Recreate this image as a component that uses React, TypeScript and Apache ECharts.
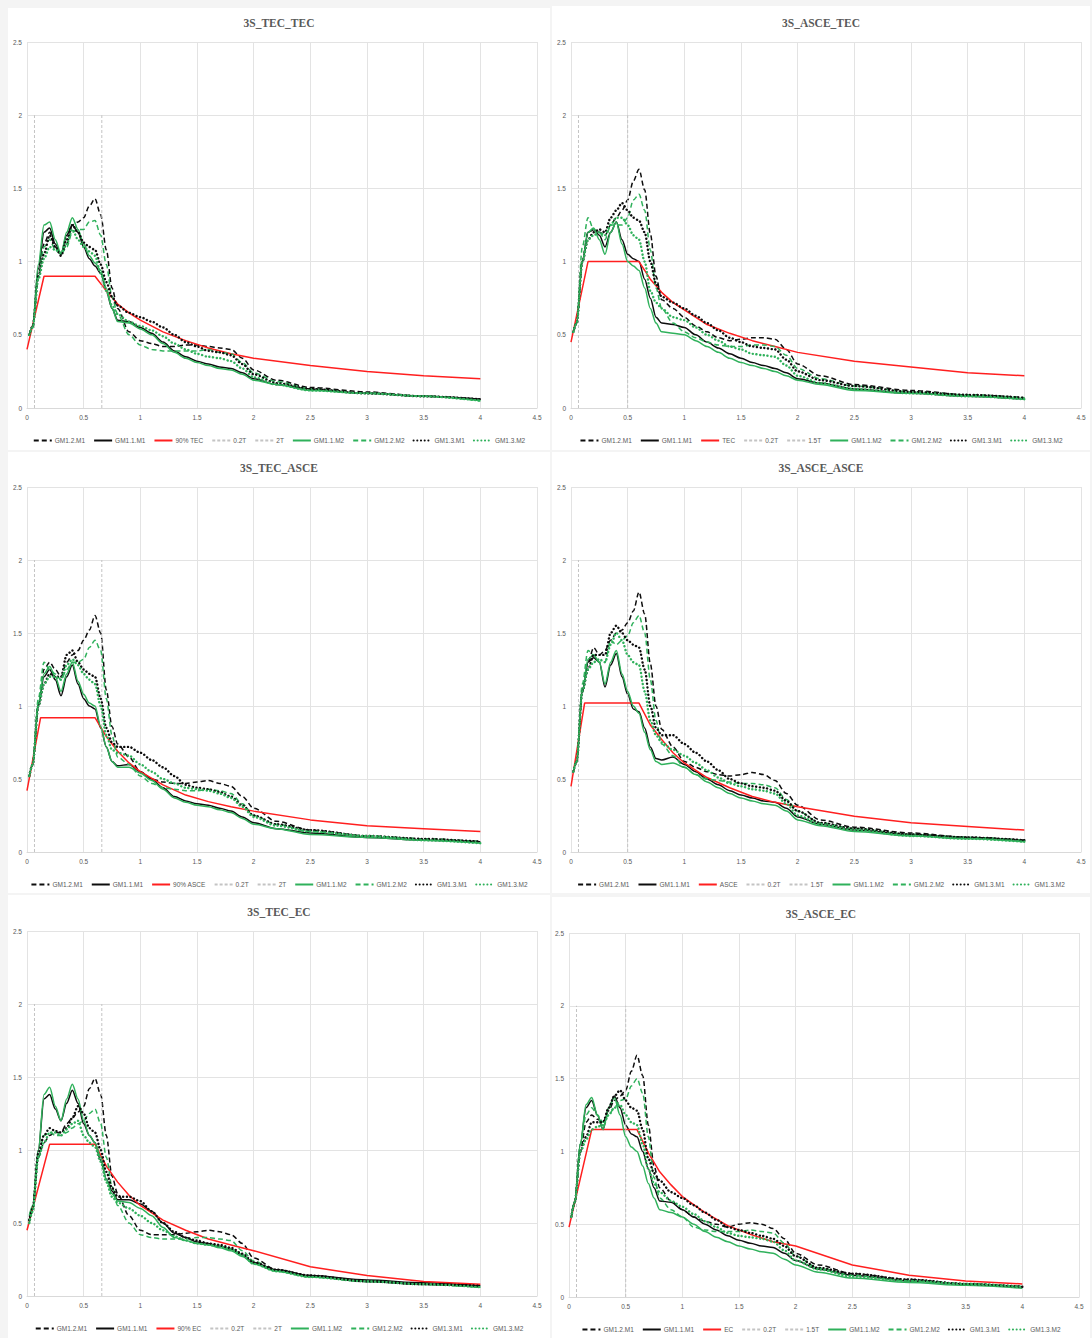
import React, { useEffect, useRef } from "react";
import * as echarts from "echarts";

// ---------- data ----------
const PERIODS = [0.02, 0.05, 0.1, 0.15, 0.2, 0.25, 0.3, 0.35, 0.4, 0.45, 0.5, 0.55, 0.6, 0.65, 0.7, 0.75, 0.8, 0.9, 1.0, 1.1, 1.2, 1.3, 1.4, 1.5, 1.6, 1.7, 1.8, 1.9, 2.0, 2.2, 2.5, 3.0, 3.5, 4.0];

const TEC_T = [0, 0.15, 0.6, 0.7, 0.8, 0.9, 1.0, 1.2, 1.4, 1.6, 1.8, 2.0, 2.5, 3.0, 3.5, 4.0];
const ASCE_T = [0, 0.12, 0.6, 0.7, 0.8, 0.9, 1.0, 1.2, 1.4, 1.6, 1.8, 2.0, 2.5, 3.0, 3.5, 4.0];
const EC_T = [0, 0.2, 0.6, 0.7, 0.8, 0.9, 1.0, 1.2, 1.4, 1.6, 1.8, 2.0, 2.5, 3.0, 3.5, 4.0];

const TITLES = ["3S_TEC_TEC", "3S_ASCE_TEC", "3S_TEC_ASCE", "3S_ASCE_ASCE", "3S_TEC_EC", "3S_ASCE_EC"];
const TARGET_NAMES = ["90% TEC", "TEC", "90% ASCE", "ASCE", "90% EC", "EC"];
const LINE2_NAMES = ["2T", "1.5T", "2T", "1.5T", "2T", "1.5T"];
const LINE1_T = [0.066, 0.066, 0.066, 0.066, 0.066, 0.066];
const LINE2_T = [0.66, 0.5, 0.66, 0.5, 0.66, 0.5];
const LINE_TOP = 2;

// Panel 1: 3S_TEC_TEC
const P1_GM11_M1 = [0.5, 0.55, 0.95, 1.2, 1.23, 1.12, 1.05, 1.18, 1.25, 1.2, 1.1, 1.02, 0.97, 0.92, 0.8, 0.68, 0.6, 0.59, 0.55, 0.51, 0.45, 0.39, 0.35, 0.32, 0.3, 0.28, 0.27, 0.24, 0.2, 0.16, 0.13, 0.1, 0.08, 0.06];
const P1_GM11_M2 = [0.5, 0.56, 0.98, 1.25, 1.27, 1.15, 1.05, 1.2, 1.3, 1.22, 1.12, 1.04, 0.99, 0.94, 0.82, 0.68, 0.59, 0.58, 0.54, 0.5, 0.44, 0.38, 0.34, 0.31, 0.29, 0.27, 0.26, 0.23, 0.19, 0.16, 0.12, 0.1, 0.08, 0.05];
const P1_GM12_M1 = [0.5, 0.55, 0.9, 1.12, 1.2, 1.1, 1.05, 1.12, 1.25, 1.27, 1.3, 1.38, 1.43, 1.32, 1.08, 0.82, 0.68, 0.52, 0.46, 0.44, 0.42, 0.42, 0.43, 0.43, 0.42, 0.41, 0.4, 0.34, 0.26, 0.19, 0.14, 0.11, 0.08, 0.06];
const P1_GM12_M2 = [0.5, 0.55, 0.9, 1.1, 1.15, 1.08, 1.05, 1.1, 1.2, 1.22, 1.22, 1.27, 1.28, 1.18, 0.98, 0.76, 0.64, 0.5, 0.43, 0.4, 0.39, 0.39, 0.39, 0.39, 0.4, 0.38, 0.37, 0.31, 0.24, 0.18, 0.13, 0.1, 0.08, 0.05];
const P1_GM13_M1 = [0.5, 0.56, 0.9, 1.05, 1.18, 1.1, 1.04, 1.15, 1.25, 1.2, 1.13, 1.1, 1.08, 0.98, 0.86, 0.76, 0.7, 0.65, 0.62, 0.59, 0.55, 0.5, 0.45, 0.42, 0.39, 0.38, 0.36, 0.3, 0.23, 0.17, 0.13, 0.1, 0.08, 0.06];
const P1_GM13_M2 = [0.5, 0.55, 0.88, 1.02, 1.1, 1.08, 1.06, 1.12, 1.22, 1.15, 1.1, 1.07, 1.04, 0.92, 0.8, 0.7, 0.64, 0.59, 0.56, 0.53, 0.49, 0.44, 0.4, 0.37, 0.35, 0.34, 0.32, 0.27, 0.21, 0.16, 0.12, 0.1, 0.08, 0.05];
const P1_TARGET = [0.4, 0.9, 0.9, 0.8, 0.71, 0.65, 0.6, 0.52, 0.46, 0.41, 0.37, 0.34, 0.29, 0.25, 0.22, 0.2];

// Panel 2: 3S_ASCE_TEC
const P2_GM11_M1 = [0.52, 0.58, 1.0, 1.2, 1.22, 1.18, 1.1, 1.2, 1.27, 1.15, 1.05, 1.02, 1.0, 0.88, 0.75, 0.62, 0.58, 0.57, 0.55, 0.5, 0.45, 0.41, 0.37, 0.34, 0.31, 0.29, 0.27, 0.24, 0.2, 0.17, 0.13, 0.1, 0.08, 0.06];
const P2_GM11_M2 = [0.52, 0.58, 1.0, 1.2, 1.23, 1.15, 1.05, 1.2, 1.27, 1.12, 1.0, 0.97, 0.94, 0.82, 0.68, 0.58, 0.52, 0.51, 0.5, 0.46, 0.42, 0.38, 0.34, 0.31, 0.29, 0.27, 0.25, 0.22, 0.19, 0.16, 0.12, 0.1, 0.08, 0.06];
const P2_GM12_M1 = [0.52, 0.58, 1.0, 1.2, 1.22, 1.2, 1.18, 1.25, 1.3, 1.35, 1.42, 1.55, 1.63, 1.49, 1.19, 0.9, 0.74, 0.68, 0.62, 0.56, 0.52, 0.48, 0.46, 0.47, 0.48, 0.48, 0.47, 0.4, 0.3, 0.22, 0.16, 0.12, 0.09, 0.07];
const P2_GM12_M2 = [0.52, 0.58, 1.1, 1.3, 1.22, 1.2, 1.15, 1.25, 1.25, 1.25, 1.3, 1.42, 1.46, 1.35, 1.08, 0.82, 0.68, 0.58, 0.52, 0.48, 0.45, 0.43, 0.42, 0.42, 0.43, 0.43, 0.42, 0.36, 0.27, 0.2, 0.15, 0.11, 0.09, 0.07];
const P2_GM13_M1 = [0.52, 0.58, 1.0, 1.15, 1.2, 1.22, 1.2, 1.3, 1.35, 1.4, 1.35, 1.3, 1.28, 1.2, 1.0, 0.85, 0.76, 0.72, 0.68, 0.63, 0.58, 0.53, 0.48, 0.45, 0.42, 0.41, 0.4, 0.33, 0.25, 0.19, 0.15, 0.11, 0.09, 0.07];
const P2_GM13_M2 = [0.52, 0.58, 1.0, 1.15, 1.18, 1.2, 1.18, 1.25, 1.3, 1.3, 1.25, 1.18, 1.15, 1.0, 0.8, 0.72, 0.68, 0.62, 0.6, 0.55, 0.5, 0.46, 0.42, 0.4, 0.37, 0.36, 0.35, 0.29, 0.22, 0.17, 0.13, 0.1, 0.08, 0.06];
const P2_TARGET = [0.45, 1.0, 1.0, 0.88, 0.79, 0.72, 0.67, 0.57, 0.51, 0.46, 0.42, 0.38, 0.32, 0.28, 0.24, 0.22];

// Panel 3: 3S_TEC_ASCE
const P3_GM11_M1 = [0.52, 0.6, 1.0, 1.2, 1.25, 1.18, 1.07, 1.2, 1.28, 1.15, 1.05, 1.0, 0.98, 0.85, 0.72, 0.62, 0.59, 0.6, 0.55, 0.5, 0.44, 0.38, 0.35, 0.33, 0.32, 0.3, 0.28, 0.24, 0.2, 0.16, 0.13, 0.1, 0.08, 0.07];
const P3_GM11_M2 = [0.52, 0.6, 1.02, 1.22, 1.27, 1.2, 1.1, 1.22, 1.3, 1.17, 1.08, 1.02, 1.0, 0.86, 0.72, 0.62, 0.58, 0.58, 0.54, 0.49, 0.43, 0.37, 0.34, 0.32, 0.31, 0.29, 0.27, 0.23, 0.19, 0.16, 0.12, 0.1, 0.08, 0.06];
const P3_GM12_M1 = [0.52, 0.6, 1.0, 1.25, 1.3, 1.25, 1.2, 1.3, 1.35, 1.38, 1.45, 1.52, 1.62, 1.5, 1.11, 0.86, 0.74, 0.65, 0.55, 0.5, 0.48, 0.47, 0.47, 0.48, 0.49, 0.47, 0.45, 0.38, 0.3, 0.21, 0.15, 0.11, 0.09, 0.07];
const P3_GM12_M2 = [0.52, 0.6, 1.05, 1.3, 1.25, 1.22, 1.18, 1.25, 1.3, 1.3, 1.32, 1.4, 1.45, 1.38, 1.05, 0.8, 0.65, 0.6, 0.52, 0.47, 0.44, 0.43, 0.42, 0.42, 0.43, 0.42, 0.4, 0.33, 0.25, 0.19, 0.14, 0.11, 0.09, 0.07];
const P3_GM13_M1 = [0.52, 0.6, 1.0, 1.15, 1.22, 1.2, 1.2, 1.35, 1.38, 1.3, 1.25, 1.22, 1.2, 1.05, 0.85, 0.75, 0.72, 0.72, 0.68, 0.63, 0.58, 0.52, 0.46, 0.44, 0.43, 0.41, 0.38, 0.32, 0.25, 0.19, 0.15, 0.11, 0.09, 0.07];
const P3_GM13_M2 = [0.52, 0.6, 1.0, 1.15, 1.2, 1.2, 1.18, 1.28, 1.32, 1.28, 1.22, 1.18, 1.15, 1.0, 0.8, 0.7, 0.68, 0.66, 0.6, 0.55, 0.5, 0.47, 0.44, 0.43, 0.42, 0.4, 0.37, 0.31, 0.24, 0.18, 0.14, 0.11, 0.08, 0.06];
const P3_TARGET = [0.42, 0.92, 0.92, 0.79, 0.69, 0.61, 0.55, 0.46, 0.39, 0.345, 0.31, 0.28, 0.22, 0.18, 0.16, 0.14];

// Panel 4: 3S_ASCE_ASCE
const P4_GM11_M1 = [0.55, 0.62, 1.1, 1.3, 1.33, 1.3, 1.13, 1.28, 1.36, 1.2, 1.08, 0.98, 0.96, 0.85, 0.72, 0.64, 0.63, 0.65, 0.6, 0.55, 0.5, 0.46, 0.42, 0.39, 0.37, 0.35, 0.34, 0.3, 0.24, 0.19, 0.15, 0.12, 0.1, 0.08];
const P4_GM11_M2 = [0.55, 0.62, 1.1, 1.32, 1.35, 1.3, 1.15, 1.3, 1.38, 1.22, 1.1, 1.0, 0.95, 0.82, 0.7, 0.62, 0.6, 0.61, 0.58, 0.53, 0.48, 0.44, 0.4, 0.37, 0.35, 0.33, 0.32, 0.28, 0.22, 0.18, 0.14, 0.11, 0.09, 0.07];
const P4_GM12_M1 = [0.55, 0.62, 1.1, 1.3, 1.4, 1.35, 1.38, 1.45, 1.5, 1.52, 1.57, 1.65, 1.78, 1.63, 1.29, 1.0, 0.84, 0.72, 0.62, 0.58, 0.55, 0.53, 0.52, 0.53, 0.545, 0.53, 0.49, 0.4, 0.32, 0.22, 0.17, 0.13, 0.1, 0.08];
const P4_GM12_M2 = [0.55, 0.62, 1.15, 1.38, 1.35, 1.3, 1.3, 1.45, 1.42, 1.45, 1.48, 1.57, 1.62, 1.5, 1.18, 0.9, 0.74, 0.66, 0.58, 0.53, 0.5, 0.49, 0.48, 0.47, 0.47, 0.46, 0.44, 0.36, 0.28, 0.2, 0.16, 0.12, 0.1, 0.08];
const P4_GM13_M1 = [0.55, 0.62, 1.1, 1.25, 1.35, 1.35, 1.35, 1.5, 1.55, 1.5, 1.45, 1.42, 1.4, 1.25, 1.0, 0.85, 0.8, 0.8, 0.74, 0.68, 0.62, 0.56, 0.5, 0.47, 0.45, 0.44, 0.42, 0.35, 0.28, 0.2, 0.16, 0.12, 0.1, 0.08];
const P4_GM13_M2 = [0.55, 0.62, 1.1, 1.25, 1.3, 1.32, 1.3, 1.42, 1.5, 1.45, 1.35, 1.3, 1.28, 1.1, 0.9, 0.8, 0.75, 0.7, 0.66, 0.61, 0.56, 0.51, 0.47, 0.45, 0.43, 0.42, 0.4, 0.33, 0.25, 0.19, 0.15, 0.11, 0.09, 0.07];
const P4_TARGET = [0.45, 1.02, 1.02, 0.87, 0.77, 0.68, 0.61, 0.51, 0.44, 0.38, 0.34, 0.31, 0.245, 0.2, 0.175, 0.15];

// Panel 5: 3S_TEC_EC
const P5_GM11_M1 = [0.52, 0.6, 1.0, 1.35, 1.38, 1.28, 1.2, 1.32, 1.41, 1.32, 1.18, 1.1, 1.05, 0.93, 0.8, 0.72, 0.66, 0.66, 0.63, 0.58, 0.5, 0.43, 0.4, 0.37, 0.36, 0.34, 0.32, 0.28, 0.23, 0.18, 0.14, 0.11, 0.09, 0.07];
const P5_GM11_M2 = [0.55, 0.62, 1.0, 1.38, 1.43, 1.3, 1.2, 1.35, 1.45, 1.35, 1.2, 1.1, 1.05, 0.95, 0.8, 0.7, 0.65, 0.64, 0.6, 0.55, 0.47, 0.4, 0.38, 0.36, 0.35, 0.33, 0.31, 0.27, 0.22, 0.17, 0.13, 0.1, 0.08, 0.06];
const P5_GM12_M1 = [0.52, 0.6, 0.95, 1.05, 1.1, 1.12, 1.12, 1.18, 1.22, 1.26, 1.3, 1.42, 1.49, 1.38, 1.1, 0.82, 0.7, 0.55, 0.45, 0.42, 0.42, 0.42, 0.43, 0.44, 0.45, 0.44, 0.42, 0.36, 0.26, 0.18, 0.14, 0.1, 0.08, 0.06];
const P5_GM12_M2 = [0.5, 0.58, 0.95, 1.1, 1.12, 1.1, 1.1, 1.12, 1.15, 1.18, 1.2, 1.25, 1.28, 1.18, 0.95, 0.75, 0.62, 0.5, 0.42, 0.4, 0.39, 0.39, 0.39, 0.4, 0.4, 0.39, 0.38, 0.31, 0.24, 0.17, 0.13, 0.1, 0.08, 0.06];
const P5_GM13_M1 = [0.52, 0.6, 0.98, 1.1, 1.15, 1.13, 1.12, 1.15, 1.22, 1.3, 1.25, 1.15, 1.12, 1.0, 0.85, 0.74, 0.68, 0.68, 0.65, 0.58, 0.5, 0.44, 0.4, 0.38, 0.36, 0.35, 0.33, 0.29, 0.23, 0.18, 0.14, 0.1, 0.08, 0.07];
const P5_GM13_M2 = [0.5, 0.58, 0.95, 1.05, 1.12, 1.12, 1.1, 1.14, 1.18, 1.2, 1.1, 1.05, 1.02, 0.92, 0.78, 0.68, 0.64, 0.6, 0.55, 0.5, 0.45, 0.41, 0.38, 0.36, 0.35, 0.34, 0.32, 0.28, 0.22, 0.17, 0.13, 0.1, 0.08, 0.06];
const P5_TARGET = [0.45, 1.04, 1.04, 0.89, 0.78, 0.69, 0.62, 0.52, 0.45, 0.39, 0.35, 0.31, 0.2, 0.14, 0.1, 0.08];

// Panel 6: 3S_ASCE_EC
const P6_GM11_M1 = [0.55, 0.65, 1.05, 1.3, 1.35, 1.25, 1.15, 1.3, 1.38, 1.3, 1.18, 1.12, 1.1, 1.0, 0.88, 0.75, 0.66, 0.65, 0.6, 0.55, 0.5, 0.46, 0.42, 0.39, 0.37, 0.35, 0.34, 0.3, 0.25, 0.19, 0.15, 0.11, 0.09, 0.07];
const P6_GM11_M2 = [0.55, 0.65, 1.05, 1.32, 1.37, 1.25, 1.15, 1.3, 1.37, 1.25, 1.1, 1.03, 1.0, 0.9, 0.78, 0.68, 0.6, 0.58, 0.55, 0.5, 0.45, 0.41, 0.38, 0.35, 0.33, 0.31, 0.3, 0.26, 0.22, 0.17, 0.13, 0.1, 0.08, 0.06];
const P6_GM12_M1 = [0.55, 0.65, 1.0, 1.2, 1.25, 1.22, 1.2, 1.28, 1.35, 1.38, 1.42, 1.55, 1.66, 1.52, 1.18, 0.9, 0.75, 0.66, 0.6, 0.55, 0.52, 0.5, 0.48, 0.5, 0.51, 0.5, 0.47, 0.4, 0.3, 0.22, 0.16, 0.12, 0.09, 0.07];
const P6_GM12_M2 = [0.55, 0.65, 1.05, 1.25, 1.3, 1.25, 1.2, 1.25, 1.3, 1.35, 1.36, 1.45, 1.5, 1.4, 1.1, 0.82, 0.68, 0.6, 0.55, 0.48, 0.46, 0.45, 0.45, 0.45, 0.46, 0.45, 0.44, 0.37, 0.28, 0.2, 0.15, 0.11, 0.09, 0.07];
const P6_GM13_M1 = [0.55, 0.65, 1.0, 1.1, 1.2, 1.2, 1.2, 1.3, 1.38, 1.42, 1.35, 1.3, 1.28, 1.15, 0.95, 0.85, 0.8, 0.72, 0.68, 0.63, 0.58, 0.53, 0.48, 0.46, 0.44, 0.42, 0.4, 0.35, 0.28, 0.2, 0.16, 0.12, 0.09, 0.07];
const P6_GM13_M2 = [0.55, 0.65, 1.0, 1.08, 1.15, 1.17, 1.18, 1.25, 1.3, 1.32, 1.25, 1.2, 1.18, 1.05, 0.88, 0.78, 0.72, 0.66, 0.62, 0.57, 0.52, 0.48, 0.44, 0.42, 0.41, 0.4, 0.38, 0.32, 0.25, 0.19, 0.14, 0.11, 0.09, 0.07];
const P6_TARGET = [0.48, 1.15, 1.15, 0.99, 0.86, 0.77, 0.69, 0.58, 0.49, 0.43, 0.38, 0.35, 0.22, 0.15, 0.11, 0.09];

// ---------- layout / style ----------
const BLACK = "#0d0d0d";
const GREEN = "#2fb15b";
const RED = "#ff1f1f";
const GREYLINE = "#c4c4c4";
const TEXT = "#595959";

type Panel = {
  idx: number;
  box: [number, number, number, number];
  grid: [number, number, number, number];
  targetT: number[];
  target: number[];
  gm: number[][]; // [GM1.2.M1, GM1.1.M1, GM1.1.M2, GM1.2.M2, GM1.3.M1, GM1.3.M2]
};

const PANELS: Panel[] = [
  { idx: 0, box: [8, 8, 542, 442], grid: [19, 34, 510, 366], targetT: TEC_T, target: P1_TARGET, gm: [P1_GM12_M1, P1_GM11_M1, P1_GM11_M2, P1_GM12_M2, P1_GM13_M1, P1_GM13_M2] },
  { idx: 1, box: [552, 6, 538, 444], grid: [19, 36, 510, 366], targetT: TEC_T, target: P2_TARGET, gm: [P2_GM12_M1, P2_GM11_M1, P2_GM11_M2, P2_GM12_M2, P2_GM13_M1, P2_GM13_M2] },
  { idx: 2, box: [8, 452, 542, 441], grid: [19, 35, 510, 365], targetT: ASCE_T, target: P3_TARGET, gm: [P3_GM12_M1, P3_GM11_M1, P3_GM11_M2, P3_GM12_M2, P3_GM13_M1, P3_GM13_M2] },
  { idx: 3, box: [552, 452, 538, 441], grid: [19, 35, 510, 365], targetT: ASCE_T, target: P4_TARGET, gm: [P4_GM12_M1, P4_GM11_M1, P4_GM11_M2, P4_GM12_M2, P4_GM13_M1, P4_GM13_M2] },
  { idx: 4, box: [8, 895, 542, 443], grid: [19, 36, 510, 365], targetT: EC_T, target: P5_TARGET, gm: [P5_GM12_M1, P5_GM11_M1, P5_GM11_M2, P5_GM12_M2, P5_GM13_M1, P5_GM13_M2] },
  { idx: 5, box: [552, 897, 538, 441], grid: [17, 36, 510, 364], targetT: EC_T, target: P6_TARGET, gm: [P6_GM12_M1, P6_GM11_M1, P6_GM11_M2, P6_GM12_M2, P6_GM13_M1, P6_GM13_M2] },
];

const FONT = "'Liberation Sans Narrow', 'Liberation Sans', Arial, sans-serif";

function pair(xs: number[], ys: number[]) {
  return xs.map((x, i) => [x, ys[i]]);
}

function buildOption(p: Panel) {
  const [gl, gt, gw, gh] = p.grid;
  const gmSeries = (name: string, ys: number[], color: string, type: any, width: number, cap = "butt") => ({
    name,
    type: "line",
    data: pair(PERIODS, ys),
    symbol: "none",
    smooth: 0.3,
    smoothMonotone: "x",
    lineStyle: { color, type, width, cap },
    itemStyle: { color },
  });
  const vline = (name: string, t: number) => ({
    name,
    type: "line",
    data: [[t, 0], [t, LINE_TOP]],
    symbol: "none",
    lineStyle: { color: GREYLINE, type: [3, 2], width: 1 },
    itemStyle: { color: GREYLINE },
  });
  const series = [
    gmSeries("GM1.2.M1", p.gm[0], BLACK, [5, 3], 1.5),
    gmSeries("GM1.1.M1", p.gm[1], BLACK, "solid", 1.5),
    {
      name: TARGET_NAMES[p.idx],
      type: "line",
      data: pair(p.targetT, p.target),
      symbol: "none",
      lineStyle: { color: RED, width: 1.5 },
      itemStyle: { color: RED },
    },
    vline("0.2T", LINE1_T[p.idx]),
    vline(LINE2_NAMES[p.idx], LINE2_T[p.idx]),
    gmSeries("GM1.1.M2", p.gm[2], GREEN, "solid", 1.5),
    gmSeries("GM1.2.M2", p.gm[3], GREEN, [5, 3], 1.5),
    gmSeries("GM1.3.M1", p.gm[4], BLACK, [0.1, 3.6], 2.4, "round"),
    gmSeries("GM1.3.M2", p.gm[5], GREEN, [0.1, 3.6], 2.4, "round"),
  ];
  return {
    animation: false,
    backgroundColor: "#ffffff",
    title: {
      text: TITLES[p.idx],
      left: "center",
      top: gt - 30,
      textStyle: { fontFamily: "'Liberation Serif', 'DejaVu Serif', serif", fontSize: 11.5, fontWeight: "bold", color: TEXT },
    },
    legend: {
      top: gt + gh + 24,
      left: "center",
      itemWidth: 18,
      itemHeight: 8,
      itemGap: 8,
      itemStyle: { opacity: 0 },
      textStyle: { fontFamily: FONT, fontSize: 6.5, color: TEXT, padding: [0, 0, 0, -2] },
      data: series.map((s) => s.name),
    },
    grid: { left: gl, top: gt, width: gw, height: gh, containLabel: false },
    xAxis: {
      type: "value",
      min: 0,
      max: 4.5,
      interval: 0.5,
      axisLine: { show: true, lineStyle: { color: "#d9d9d9", width: 1 } },
      axisTick: { show: false },
      axisLabel: { fontFamily: FONT, fontSize: 6.5, color: TEXT, margin: 6 },
      splitLine: { show: true, lineStyle: { color: "#e3e3e3", width: 1 } },
    },
    yAxis: {
      type: "value",
      min: 0,
      max: 2.5,
      interval: 0.5,
      axisLine: { show: false },
      axisTick: { show: false },
      axisLabel: { fontFamily: FONT, fontSize: 6.5, color: TEXT, margin: 5 },
      splitLine: { show: true, lineStyle: { color: "#e3e3e3", width: 1 } },
    },
    series,
  };
}

function ChartPanel({ p }: { p: Panel }) {
  const ref = useRef<HTMLDivElement>(null);
  useEffect(() => {
    if (!ref.current) return;
    const chart = echarts.init(ref.current, undefined, { renderer: "svg" });
    chart.setOption(buildOption(p) as any);
    return () => chart.dispose();
  }, [p]);
  const [x, y, w, h] = p.box;
  return (
    <div
      style={{
        position: "absolute",
        left: x,
        top: y,
        width: w,
        height: h,
        border: "1px solid #dcdcdc",
        boxSizing: "border-box",
        background: "#fff",
      }}
    >
      <div ref={ref} style={{ position: "absolute", left: -1, top: -1, width: w, height: h }} />
    </div>
  );
}

export default function App() {
  return (
    <div style={{ position: "fixed", left: 0, top: 0, width: 1092, height: 1338, background: "#f4f4f4", overflow: "hidden" }}>
      {PANELS.map((p) => (
        <ChartPanel key={p.idx} p={p} />
      ))}
    </div>
  );
}
